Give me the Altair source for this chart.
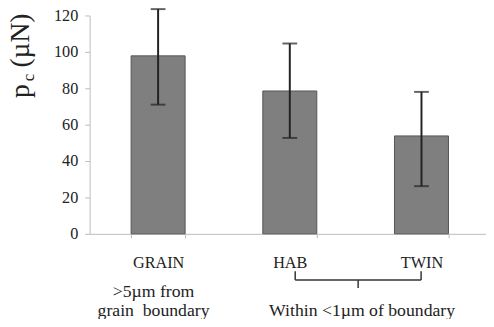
import altair as alt
import pandas as pd

categories = ["GRAIN", "HAB", "TWIN"]
means = [97.8, 78.5, 53.8]
lows = [71.0, 52.7, 26.2]
highs = [123.5, 104.6, 78.0]
y_ticks = [0, 20, 40, 60, 80, 100, 120]

df = pd.DataFrame({"cat": categories, "mean": means, "lo": lows, "hi": highs})

FONT = "Liberation Serif"

x_scale = alt.Scale(paddingInner=0.59, paddingOuter=0.3, align=0.525)
y_scale = alt.Scale(domain=[0, 120])
x_axis = alt.Axis(labelAngle=0, labelFont=FONT, labelFontSize=16.5, labelColor="#222",
                  domainColor="#bbb", tickColor="#bbb", tickSize=4, tickBand="extent",
                  labelPadding=17)
y_axis = alt.Axis(values=y_ticks, grid=False, labelFont=FONT, labelOverlap=False,
                  labelFontSize=16.5, labelColor="#222", domainColor="#bbb",
                  tickColor="#bbb", tickSize=5, labelPadding=7)

x = alt.X("cat:N", sort=categories, title=None, scale=x_scale, axis=x_axis)

def yenc(field):
    return alt.Y(field, type="quantitative", title=None, scale=y_scale, axis=y_axis)

base = alt.Chart(df)
bars = base.mark_bar(color="#7f7f7f", stroke="#555", strokeWidth=1).encode(x=x, y=yenc("mean"))
rules = base.mark_rule(color="#222", strokeWidth=2).encode(x=x, y=yenc("lo"), y2="hi:Q")
cap_top = base.mark_tick(color="#222", thickness=2, size=15, orient="horizontal").encode(x=x, y=yenc("hi"))
cap_bot = base.mark_tick(color="#222", thickness=2, size=15, orient="horizontal").encode(x=x, y=yenc("lo"))

one = pd.DataFrame({"a": [0]})

def txt(s, px, py, size=16, **kw):
    return alt.Chart(one).mark_text(text=s, font=FONT, fontSize=size, color="#222", **kw).encode(
        x=alt.value(px), y=alt.value(py))

# y title p_c (µN)
t_p = txt("p", -62, 84, size=28, angle=270, align="left", baseline="alphabetic")
t_c = txt("c", -57, 67, size=17, angle=270, align="left", baseline="alphabetic")
t_u = txt("(µN)", -62, 53, size=28, angle=270, align="left", baseline="alphabetic")

g1 = txt(">5µm from", 65, 281, size=18, baseline="middle")
g2 = txt("grain\u00a0\u00a0boundary", 65, 301, size=18, baseline="middle")
w1 = txt("Within <1µm of boundary", 277, 301, size=18, baseline="middle")

def rule(**enc):
    return alt.Chart(one).mark_rule(color="#333", strokeWidth=1.5).encode(**enc)

b1 = rule(x=alt.value(209), y=alt.value(260), y2=alt.value(269))
b2 = rule(x=alt.value(337), y=alt.value(260), y2=alt.value(269))
b3 = rule(x=alt.value(209), x2=alt.value(337), y=alt.value(269))
b4 = rule(x=alt.value(273), y=alt.value(269), y2=alt.value(277))

chart = alt.layer(bars, rules, cap_top, cap_bot, t_p, t_c, t_u, g1, g2, w1, b1, b2, b3, b4).properties(
    width=403, height=222,
    autosize=alt.AutoSizeParams(type="none"),
    padding={"left": 83, "top": 5, "right": 0, "bottom": 84},
).configure_view(stroke=None)

chart.save("out.html", embed_options={"renderer": "svg", "actions": False})
